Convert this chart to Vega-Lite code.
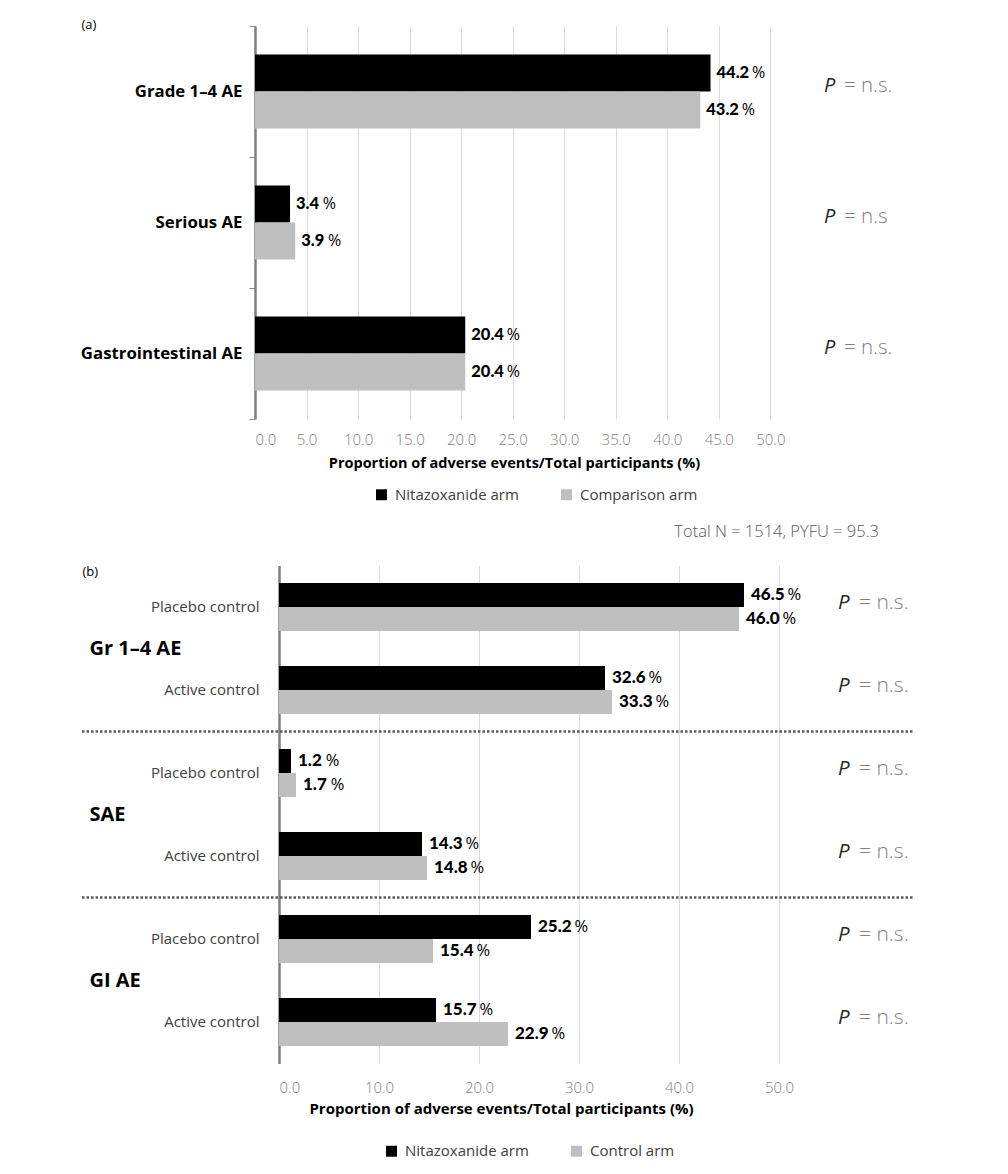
{
  "$schema": "https://vega.github.io/schema/vega-lite/v6.json",
  "padding": {"left": 80, "top": 18, "right": 10, "bottom": 10},
  "bounds": "flush",
  "center": true,
  "spacing": 146.5,
  "background": "white",
  "config": {
    "font": "Open Sans",
    "view": {"stroke": null},
    "legend": {"labelFontSize": 15, "labelColor": "#404040", "symbolType": "square", "symbolSize": 120, "symbolStrokeWidth": 0, "labelOffset": 6, "columnPadding": 40, "padding": 0, "orient": "none", "direction": "horizontal", "title": null}
  },
  "resolve": {"scale": {"x": "independent", "y": "independent", "color": "independent", "yOffset": "independent"}, "legend": {"color": "independent"}},
  "vconcat": [
    {
      "width": 639,
      "height": 393,
      "data": {"values": [
        {"category": "Grade 1–4 AE", "arm": "Nitazoxanide arm", "value": 44.2},
        {"category": "Grade 1–4 AE", "arm": "Comparison arm", "value": 43.2},
        {"category": "Serious AE", "arm": "Nitazoxanide arm", "value": 3.4},
        {"category": "Serious AE", "arm": "Comparison arm", "value": 3.9},
        {"category": "Gastrointestinal AE", "arm": "Nitazoxanide arm", "value": 20.4},
        {"category": "Gastrointestinal AE", "arm": "Comparison arm", "value": 20.4}
      ]},
      "layer": [
        {
          "mark": {"type": "bar"},
          "encoding": {
            "y": {"field": "category", "type": "nominal", "scale": {"domain": ["Grade 1–4 AE", "Serious AE", "Gastrointestinal AE"], "paddingInner": 0, "paddingOuter": 0},
              "axis": {"title": "(a)", "titleAngle": 0, "titleX": -174, "titleY": -2, "titleAlign": "left", "titleBaseline": "middle", "titleFontSize": 13, "titleFontWeight": "normal", "titleColor": "#000",
                "domain": true, "domainColor": "#7f7f7f", "domainWidth": 2.5, "ticks": true, "tickBand": "extent", "tickSize": 6, "tickColor": "#8c8c8c", "tickWidth": 1,
                "labelFontSize": 16.8, "labelFontWeight": "bold", "labelColor": "#000", "labelPadding": 7}},
            "yOffset": {"field": "arm", "type": "nominal", "scale": {"domain": ["Nitazoxanide arm", "Comparison arm"], "paddingInner": 0, "paddingOuter": 0.77}},
            "x": {"field": "value", "type": "quantitative", "scale": {"domain": [0, 62], "nice": false, "zero": true},
              "axis": {"values": [0, 5, 10, 15, 20, 25, 30, 35, 40, 45, 50], "format": ".1f", "grid": true, "gridColor": "#d9d9d9", "domain": false, "ticks": false,
                "labelFontSize": 15, "labelColor": "#7f7f7f", "labelFontWeight": 300, "labelPadding": 13,
                "title": "Proportion of adverse events/Total participants (%)", "titleFontSize": 14.5, "titleFontWeight": "bold", "titleColor": "#000", "titlePadding": 9, "titleX": 259, "titleAlign": "center"}},
            "color": {"field": "arm", "type": "nominal", "scale": {"domain": ["Nitazoxanide arm", "Comparison arm"], "range": ["#000000", "#bfbfbf"]},
              "legend": {"legendX": 119, "legendY": 461}}
          }
        },
        {
          "mark": {"type": "text", "align": "left", "baseline": "middle", "dx": 6, "font": "Lato", "fontSize": 16.5, "fontWeight": 900, "color": "#000"},
          "encoding": {
            "y": {"field": "category", "type": "nominal"},
            "yOffset": {"field": "arm", "type": "nominal"},
            "x": {"field": "value", "type": "quantitative"},
            "text": {"field": "value", "type": "quantitative", "format": ".1f"}
          }
        },
        {
          "mark": {"type": "text", "align": "left", "baseline": "middle", "dx": {"expr": "7 + 8.6*length(format(datum.value, '.1f'))"}, "fontSize": 16, "fontWeight": 400, "color": "#000"},
          "encoding": {
            "y": {"field": "category", "type": "nominal"},
            "yOffset": {"field": "arm", "type": "nominal"},
            "x": {"field": "value", "type": "quantitative"},
            "text": {"value": "%"}
          }
        },
        {
          "data": {"values": [
            {"category": "Grade 1–4 AE", "p": "= n.s."},
            {"category": "Serious AE", "p": "= n.s"},
            {"category": "Gastrointestinal AE", "p": "= n.s."}
          ]},
          "mark": {"type": "text", "align": "left", "baseline": "middle", "dy": -6, "fontSize": 20, "fontStyle": "italic", "color": "#262626"},
          "encoding": {
            "y": {"field": "category", "type": "nominal"},
            "x": {"datum": 55.2},
            "text": {"value": "P"}
          }
        },
        {
          "data": {"values": [
            {"category": "Grade 1–4 AE", "p": "= n.s."},
            {"category": "Serious AE", "p": "= n.s"},
            {"category": "Gastrointestinal AE", "p": "= n.s."}
          ]},
          "mark": {"type": "text", "align": "left", "baseline": "middle", "dy": -6, "dx": 20, "fontSize": 20.5, "fontWeight": 300, "color": "#7f7f7f"},
          "encoding": {
            "y": {"field": "category", "type": "nominal"},
            "x": {"datum": 55.2},
            "text": {"field": "p", "type": "nominal"}
          }
        }
      ]
    },
    {
      "width": 591,
      "height": 498,
      "title": {"text": "Total N = 1514,  PYFU = 95.3", "anchor": "end", "frame": "group", "fontSize": 16.5, "fontWeight": 300, "color": "#595959", "dx": 9, "offset": 25},
      "layer": [
        {
          "data": {"values": [
            {"row": "Gr 1–4 AE|Placebo control", "arm": "Nitazoxanide arm", "value": 46.5},
            {"row": "Gr 1–4 AE|Placebo control", "arm": "Control arm", "value": 46.0},
            {"row": "Gr 1–4 AE|Active control", "arm": "Nitazoxanide arm", "value": 32.6},
            {"row": "Gr 1–4 AE|Active control", "arm": "Control arm", "value": 33.3},
            {"row": "SAE|Placebo control", "arm": "Nitazoxanide arm", "value": 1.2},
            {"row": "SAE|Placebo control", "arm": "Control arm", "value": 1.7},
            {"row": "SAE|Active control", "arm": "Nitazoxanide arm", "value": 14.3},
            {"row": "SAE|Active control", "arm": "Control arm", "value": 14.8},
            {"row": "GI AE|Placebo control", "arm": "Nitazoxanide arm", "value": 25.2},
            {"row": "GI AE|Placebo control", "arm": "Control arm", "value": 15.4},
            {"row": "GI AE|Active control", "arm": "Nitazoxanide arm", "value": 15.7},
            {"row": "GI AE|Active control", "arm": "Control arm", "value": 22.9}
          ]},
          "layer": [
            {
              "mark": {"type": "bar"},
              "encoding": {
                "y": {"field": "row", "type": "nominal", "scale": {"domain": ["Gr 1–4 AE|Placebo control", "Gr 1–4 AE|Active control", "SAE|Placebo control", "SAE|Active control", "GI AE|Placebo control", "GI AE|Active control"], "paddingInner": 0, "paddingOuter": 0},
                  "axis": {"title": null, "labelExpr": "split(datum.label, '|')[1]", "domain": true, "domainColor": "#7f7f7f", "domainWidth": 2.5, "ticks": false,
                    "labelFontSize": 15, "labelColor": "#404040", "labelPadding": 20}},
                "yOffset": {"field": "arm", "type": "nominal", "scale": {"domain": ["Nitazoxanide arm", "Control arm"], "paddingInner": 0, "paddingOuter": 0.729}},
                "x": {"field": "value", "type": "quantitative", "scale": {"domain": [0, 59.1], "nice": false, "zero": true},
                  "axis": {"values": [0, 10, 20, 30, 40, 50], "format": ".1f", "grid": true, "gridColor": "#d9d9d9", "domain": false, "ticks": false,
                    "labelFontSize": 15, "labelColor": "#7f7f7f", "labelFontWeight": 300, "labelPadding": 17,
                    "title": "Proportion of adverse events/Total participants (%)", "titleFontSize": 15, "titleFontWeight": "bold", "titleColor": "#000", "titlePadding": 6, "titleX": 222, "titleAlign": "center"}},
                "color": {"field": "arm", "type": "nominal", "scale": {"domain": ["Nitazoxanide arm", "Control arm"], "range": ["#000000", "#bfbfbf"]},
                  "legend": {"legendX": 105, "legendY": 578}}
              }
            },
            {
              "mark": {"type": "text", "align": "left", "baseline": "middle", "dx": 7, "font": "Lato", "fontSize": 17, "fontWeight": 900, "color": "#000"},
              "encoding": {
                "y": {"field": "row", "type": "nominal"},
                "yOffset": {"field": "arm", "type": "nominal"},
                "x": {"field": "value", "type": "quantitative"},
                "text": {"field": "value", "type": "quantitative", "format": ".1f"}
              }
            },
            {
              "mark": {"type": "text", "align": "left", "baseline": "middle", "dx": {"expr": "8 + 8.9*length(format(datum.value, '.1f'))"}, "fontSize": 16.5, "fontWeight": 400, "color": "#000"},
              "encoding": {
                "y": {"field": "row", "type": "nominal"},
                "yOffset": {"field": "arm", "type": "nominal"},
                "x": {"field": "value", "type": "quantitative"},
                "text": {"value": "%"}
              }
            },
            {
              "data": {"values": [
                {"row": "Gr 1–4 AE|Placebo control", "p": "= n.s."},
                {"row": "Gr 1–4 AE|Active control", "p": "= n.s."},
                {"row": "SAE|Placebo control", "p": "= n.s."},
                {"row": "SAE|Active control", "p": "= n.s."},
                {"row": "GI AE|Placebo control", "p": "= n.s."},
                {"row": "GI AE|Active control", "p": "= n.s."}
              ]},
              "mark": {"type": "text", "align": "left", "baseline": "middle", "dy": -4, "fontSize": 20.5, "fontStyle": "italic", "color": "#262626"},
              "encoding": {
                "y": {"field": "row", "type": "nominal"},
                "x": {"datum": 55.9},
                "text": {"value": "P"}
              }
            },
            {
              "data": {"values": [
                {"row": "Gr 1–4 AE|Placebo control", "p": "= n.s."},
                {"row": "Gr 1–4 AE|Active control", "p": "= n.s."},
                {"row": "SAE|Placebo control", "p": "= n.s."},
                {"row": "SAE|Active control", "p": "= n.s."},
                {"row": "GI AE|Placebo control", "p": "= n.s."},
                {"row": "GI AE|Active control", "p": "= n.s."}
              ]},
              "mark": {"type": "text", "align": "left", "baseline": "middle", "dy": -4, "dx": 21, "fontSize": 21, "fontWeight": 300, "color": "#7f7f7f"},
              "encoding": {
                "y": {"field": "row", "type": "nominal"},
                "x": {"datum": 55.9},
                "text": {"field": "p", "type": "nominal"}
              }
            }
          ]
        },
        {
          "data": {"values": [{"group": "SAE"}, {"group": "GI AE"}]},
          "mark": {"type": "rule", "strokeDash": [2.5, 2], "strokeWidth": 2.5, "color": "#595959"},
          "encoding": {
            "y": {"field": "group", "type": "nominal", "bandPosition": 0, "scale": {"domain": ["Gr 1–4 AE", "SAE", "GI AE"], "paddingInner": 0, "paddingOuter": 0},
              "axis": {"orient": "left", "domain": false, "ticks": false, "grid": false, "labelAlign": "left", "labelPadding": 190, "labelFontSize": 20, "labelFontWeight": "bold", "labelColor": "#000",
                "title": "(b)", "titleAngle": 0, "titleX": -197, "titleY": 6, "titleAlign": "left", "titleBaseline": "middle", "titleFontSize": 13, "titleFontWeight": "normal", "titleColor": "#000"}},
            "x": {"datum": -19.7},
            "x2": {"datum": 63.4}
          }
        }
      ],
      "resolve": {"scale": {"y": "independent"}, "axis": {"y": "independent"}}
    }
  ]
}
